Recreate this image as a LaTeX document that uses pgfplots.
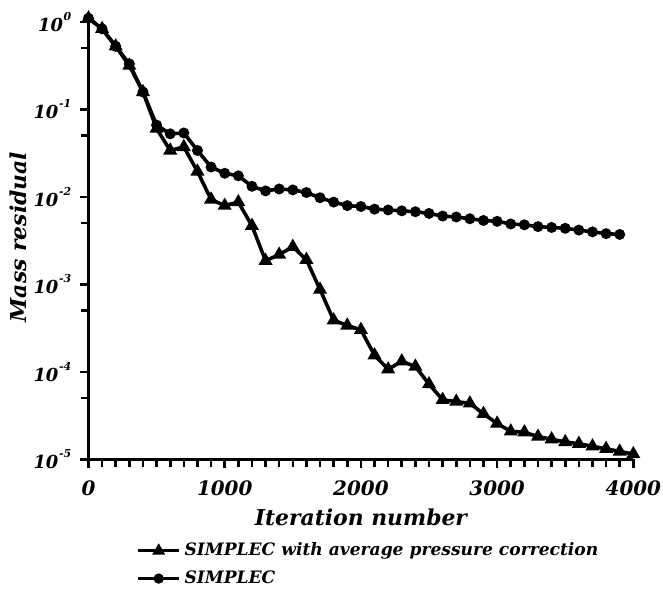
\documentclass[border=0pt]{standalone}
\usepackage{pgfplots}
\pgfplotsset{compat=1.18}
\usepackage{fontspec}
\setmainfont{DejaVu Serif}

% power-of-ten tick label with a compact exponent
\newcommand\pten[1]{10\kern0.3pt\raisebox{0.6em}{\fontsize{5.5}{6}\selectfont #1}}

% Convergence history: mass residual per iteration
\pgfplotstableread{
it     res
0      1.10
100    0.832
200    0.525
300    0.316
400    0.158
500    0.0603
600    0.0339
700    0.0372
800    0.0195
900    0.00933
1000   0.00794
1100   0.00871
1200   0.00468
1300   0.00186
1400   0.00219
1500   0.00269
1600   0.00191
1700   8.71e-4
1800   3.89e-4
1900   3.39e-4
2000   3.02e-4
2100   1.55e-4
2200   1.07e-4
2300   1.32e-4
2400   1.15e-4
2500   7.24e-5
2600   4.79e-5
2700   4.57e-5
2800   4.37e-5
2900   3.31e-5
3000   2.57e-5
3100   2.09e-5
3200   2.04e-5
3300   1.82e-5
3400   1.70e-5
3500   1.58e-5
3600   1.51e-5
3700   1.41e-5
3800   1.32e-5
3900   1.23e-5
4000   1.15e-5
}\avgcorr

\pgfplotstableread{
it     res
0      1.10
100    0.832
200    0.525
300    0.331
400    0.158
500    0.0661
600    0.0525
700    0.0537
800    0.0339
900    0.0219
1000   0.0186
1100   0.0174
1200   0.0132
1300   0.0117
1400   0.0123
1500   0.0120
1600   0.0112
1700   0.00977
1800   0.00871
1900   0.00794
2000   0.00776
2100   0.00724
2200   0.00708
2300   0.00692
2400   0.00676
2500   0.00646
2600   0.00603
2700   0.00589
2800   0.00562
2900   0.00537
3000   0.00525
3100   0.00490
3200   0.00479
3300   0.00457
3400   0.00447
3500   0.00437
3600   0.00417
3700   0.00398
3800   0.00380
3900   0.00372
}\simplec

\begin{document}
\begin{tikzpicture}
\begin{axis}[
  scale only axis, width=274pt, height=223.5pt,
  xmin=0, xmax=4000, ymode=log, ymin=1e-5, ymax=1.2,
  clip=false,
  axis lines*=left,
  axis line style={line width=1.5pt},
  tick align=outside,
  tick style={line width=1.3pt, black},
  major tick length=4.5pt, minor tick length=4pt,
  xtick={0,1000,2000,3000,4000},
  minor xtick={100,200,...,3900},
  ytick={1,1e-1,1e-2,1e-3,1e-4,1e-5},
  yticklabels={\pten{0},\pten{-1},\pten{-2},\pten{-3},\pten{-4},\pten{-5}},
  minor ytick={0.5,0.05,0.005,5e-4,5e-5},
  /pgf/number format/assume math mode=true,
  /pgf/number format/set thousands separator={},
  ticklabel style={font=\fontsize{10}{12}\selectfont\bfseries\itshape, inner sep=1pt},
  xticklabel style={yshift=-5pt},
  yticklabel style={font=\fontsize{9}{12}\selectfont\bfseries\itshape, xshift=-3pt},
  xlabel={Iteration number},
  ylabel={Mass residual},
  label style={font=\fontsize{11}{13}\selectfont\bfseries\itshape, inner sep=1pt},
  xlabel style={yshift=-4.5pt},
  ylabel style={yshift=1pt},
  legend style={draw=none, fill=none, at={(0.088,-0.178)}, anchor=north west,
    font=\fontsize{8.6}{11}\selectfont\bfseries\itshape, row sep=2pt,
    inner sep=0pt},
  legend cell align=left,
  legend image code/.code={%
    \draw[mark repeat=2,mark phase=2,#1]
      plot coordinates {(0cm,0cm) (0.36cm,0cm) (0.72cm,0cm)};},
  legend image post style={line width=1.5pt},
  every axis plot/.append style={line width=1.8pt, black},
]
\addplot[mark=triangle*, mark size=2.3pt, mark options={solid}] table[x=it,y=res]{\avgcorr};
\addlegendentry{SIMPLEC with average pressure correction}
\addplot[mark=*, mark size=1.8pt] table[x=it,y=res]{\simplec};
\addlegendentry{SIMPLEC}
% page margins around the figure
\path (rel axis cs:0,0) ++(-44.5pt,-65pt);
\path (rel axis cs:1,1) ++(13pt,7.5pt);
\end{axis}
\end{tikzpicture}
\end{document}
